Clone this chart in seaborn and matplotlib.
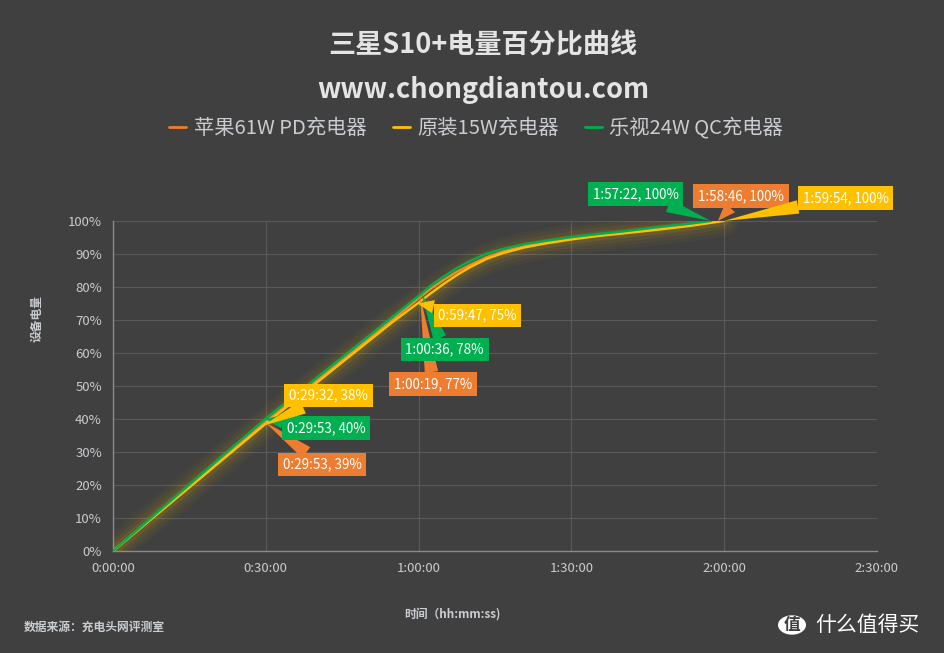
import numpy as np
import pandas as pd
import matplotlib
matplotlib.use('Agg')
import matplotlib.pyplot as plt
import matplotlib.patheffects as pe
from matplotlib.lines import Line2D
from matplotlib.patches import Circle
import seaborn as sns

# charging curves, time in seconds, charge in %
series_names = ['苹果61W PD充电器', '原装15W充电器', '乐视24W QC充电器']

apple_t = [0, 900, 1793, 2700, 3300, 3619, 3750, 3900, 4050, 4200, 4400, 4600, 4850,
           5100, 5400, 5700, 6000, 6400, 6800, 7126]
apple_v = [0, 19.6, 39, 57.8, 70.2, 77, 79.6, 82.2, 84.6, 86.6, 89.0, 90.8, 92.4,
           93.6, 94.8, 95.7, 96.5, 97.6, 98.8, 100]

stock_t = [0, 900, 1772, 2700, 3300, 3587, 3750, 3900, 4050, 4200, 4400, 4600, 4850,
           5100, 5400, 5700, 6000, 6400, 6800, 7194]
stock_v = [0, 19.3, 38, 57.2, 69.5, 75, 78.2, 81.0, 83.6, 85.9, 88.5, 90.3, 92.0,
           93.2, 94.4, 95.4, 96.2, 97.3, 98.5, 100]

letv_t = [0, 900, 1793, 2700, 3300, 3636, 3750, 3900, 4050, 4200, 4400, 4600, 4850,
          5100, 5400, 5700, 6000, 6400, 6800, 7042]
letv_v = [0, 20.1, 40, 58.7, 71.1, 78, 80.5, 83.2, 85.7, 87.8, 90.1, 91.6, 93.0,
          94.0, 95.1, 96.0, 96.8, 98.1, 99.2, 100]

# labelled points (markPoints)
mark_series = [0, 0, 0, 2, 2, 2, 1, 1, 1]
mark_t = [1793, 3619, 7126, 1793, 3636, 7042, 1772, 3587, 7194]
mark_v = [39, 77, 100, 40, 78, 100, 38, 75, 100]
mark_text = ['0:29:53, 39%', '1:00:19, 77%', '1:58:46, 100%',
             '0:29:53, 40%', '1:00:36, 78%', '1:57:22, 100%',
             '0:29:32, 38%', '0:59:47, 75%', '1:59:54, 100%']
mark_offset = [(57, -42), (13, -87), (23, 25),
               (61, -9), (23, -56), (-75, 27),
               (65, 30), (60, -12), (122, 23)]

colors = ['#ED7D31', '#FFC000', '#00B050']
bg = '#404040'
txt = '#c9ccd0'

rows = []
for name, ts, vs in zip(series_names, [apple_t, stock_t, letv_t], [apple_v, stock_v, letv_v]):
    for t, v in zip(ts, vs):
        rows.append({'time': t, 'pct': v, 'charger': name})
df = pd.DataFrame(rows)

sns.set_style('dark')
plt.rcParams['font.family'] = ['Noto Sans CJK SC', 'DejaVu Sans']

fig = plt.figure(figsize=(9.45, 6.53), dpi=100, facecolor=bg)
ax = fig.add_axes([0.1196, 0.1562, 0.8084, 0.5054])
ax.set_facecolor(bg)

sns.lineplot(data=df, x='time', y='pct', hue='charger', palette=colors,
             hue_order=series_names, estimator=None, sort=False, linewidth=1.7,
             ax=ax, legend=False)

# yellow glow like the echarts shadow
glow = [pe.Stroke(linewidth=w, foreground='#FFC000', alpha=a)
        for w, a in [(22, 0.03), (17, 0.04), (12, 0.06), (7, 0.1)]]
for i, line in enumerate(ax.get_lines()):
    line.set_solid_joinstyle('round')
    effects = glow + [pe.Normal()] if i == 1 else [pe.Normal()]
    line.set_path_effects(effects)
    line.set_zorder(3 + i)

ax.set_xlim(0, 9000)
ax.set_ylim(0, 100)
ax.set_xticks(np.arange(0, 9001, 1800))
ax.set_xticklabels(['%d:%02d:00' % (s // 3600, (s % 3600) // 60) for s in range(0, 9001, 1800)])
ax.set_yticks(np.arange(0, 101, 10))
ax.set_yticklabels(['%d%%' % v for v in range(0, 101, 10)])
ax.tick_params(colors=txt, labelsize=9.5, length=0, pad=8)
ax.grid(True, color='#5a5a5a', linewidth=0.8)
for s in ['top', 'right']:
    ax.spines[s].set_visible(False)
for s in ['left', 'bottom']:
    ax.spines[s].set_color('#8a8a8a')
    ax.spines[s].set_linewidth(1)
ax.set_xlabel('')
ax.set_ylabel('')

for k, (si, t, v, label, off) in enumerate(zip(mark_series, mark_t, mark_v, mark_text, mark_offset)):
    c = colors[si]
    ax.annotate(label, xy=(t, v), xytext=off, textcoords='offset pixels',
                ha='center', va='center', color='white', fontsize=9.7,
                bbox=dict(boxstyle='square,pad=0.35', fc=c, ec='none'),
                arrowprops=dict(arrowstyle='wedge,tail_width=1.0,shrink_factor=0.5',
                                fc=c, ec='none', shrinkA=0, shrinkB=0),
                zorder=10 + k, annotation_clip=False)

fig.text(483 / 945, 1 - 45 / 653, '三星S10+电量百分比曲线', ha='center', va='center',
         color='#e4e4e4', fontsize=19.5, fontweight='bold')
fig.text(483 / 945, 1 - 90 / 653, 'www.chongdiantou.com', ha='center', va='center',
         color='#e4e4e4', fontsize=19.5, fontweight='bold')

handles = [Line2D([0], [0], color=c, linewidth=2) for c in colors]
fig.legend(handles, series_names, loc='center', bbox_to_anchor=(476 / 945, 1 - 128 / 653),
           ncol=3, frameon=False, fontsize=14.6, labelcolor=txt,
           handlelength=0.85, handletextpad=0.35, columnspacing=1.3)

fig.text(37 / 945, 1 - 318 / 653, '设备电量', rotation=90, ha='center', va='center',
         color=txt, fontsize=8.5, fontweight='bold')
fig.text(452 / 945, 1 - 614 / 653, '时间（hh:mm:ss)', ha='center', va='center',
         color=txt, fontsize=8.5, fontweight='bold')
fig.text(24 / 945, 1 - 627 / 653, '数据来源：充电头网评测室', ha='left', va='center',
         color=txt, fontsize=8.5, fontweight='bold')

# site watermark
fig.patches.append(Circle((792 / 945, 1 - 625 / 653), 14 / 945, transform=fig.transFigure,
                          fc='white', ec='none'))
fig.text(792 / 945, 1 - 625 / 653, '值', ha='center', va='center', color=bg,
         fontsize=12, fontweight='bold')
fig.text(815 / 945, 1 - 625 / 653, '什么值得买', ha='left', va='center', color='white',
         fontsize=15)

fig.savefig('out.png', dpi=100, facecolor=bg)
